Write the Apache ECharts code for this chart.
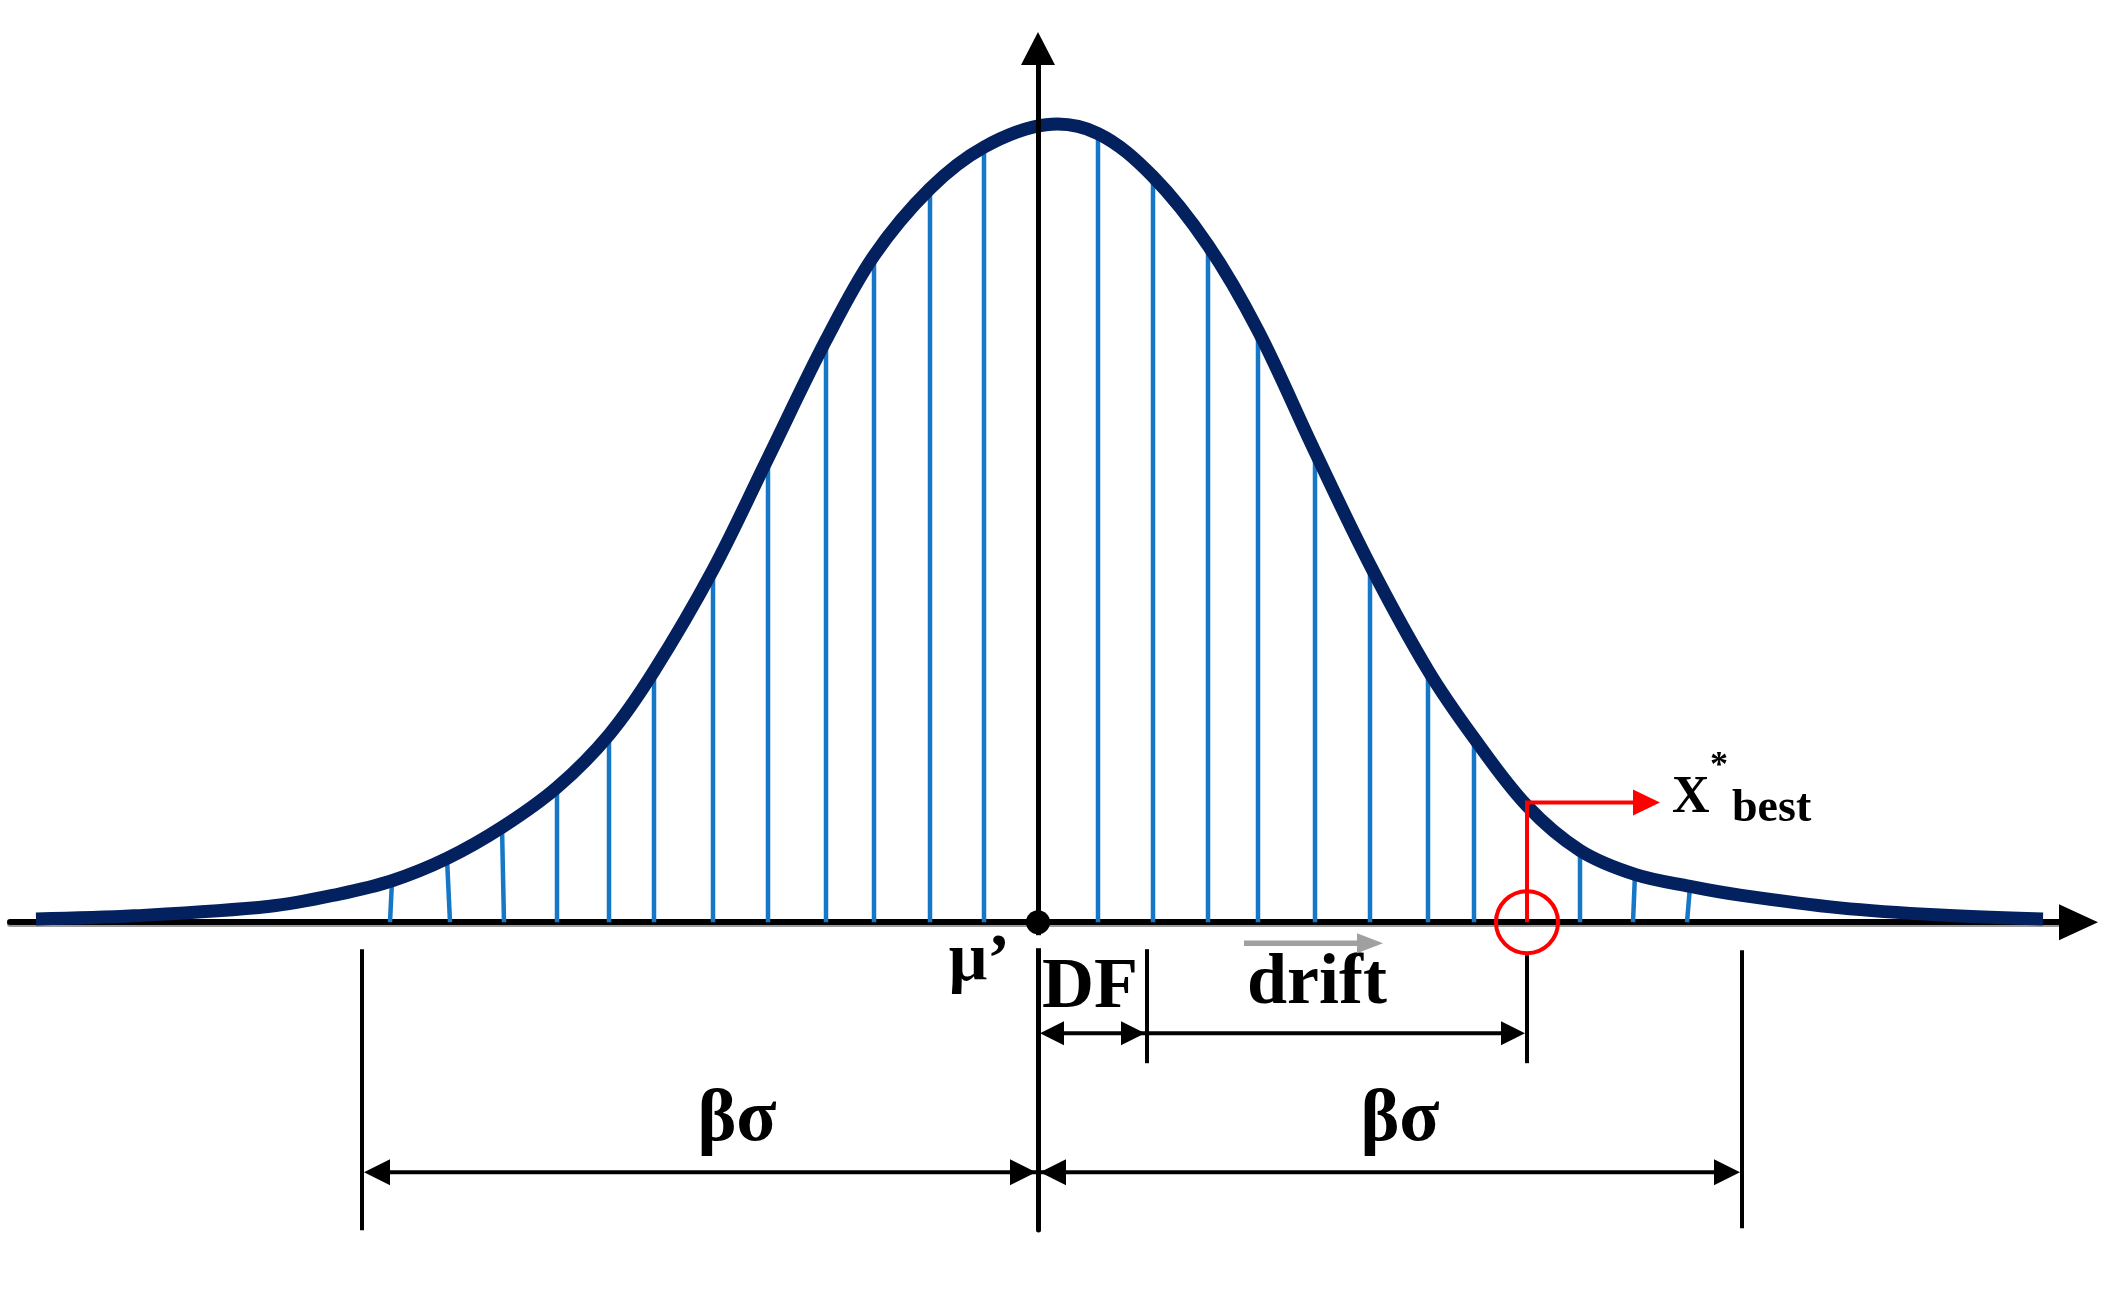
<!DOCTYPE html>
<html>
<head>
    <meta charset="UTF-8">
    <title>drift</title>
    <script src="https://cdn.jsdelivr.net/npm/echarts@6/dist/echarts.min.js"></script>
    <style>
        html, body {margin: 0; padding: 0; background: #fff;}
        #main {width: 2117px; height: 1290px;}
    </style>
</head>
<body>
<div id="main"></div>
<script>
    // curve: x in sigma from mu', y relative to the peak
    var curveX = [-4.008, -3.616, -3.072, -2.800, -2.584, -2.364, -2.144, -1.924, -1.716, -1.536, -1.300,
        -1.080, -0.848, -0.656, -0.432, -0.216, 0.032, 0.240, 0.460, 0.680, 0.880, 1.108, 1.328, 1.560,
        1.744, 1.956, 2.168, 2.388, 2.608, 2.808, 3.208, 3.608, 4.020];
    var curveY = [0.004, 0.008, 0.020, 0.035, 0.052, 0.080, 0.119, 0.169, 0.235, 0.315, 0.442,
        0.582, 0.730, 0.836, 0.920, 0.972, 1.000, 0.989, 0.935, 0.849, 0.742, 0.590, 0.448, 0.316,
        0.231, 0.146, 0.090, 0.060, 0.045, 0.034, 0.018, 0.009, 0.004];

    // blue hatch lines (foot on the axis, top on the curve)
    var hatchX = [-2.592, -2.352, -2.136, -1.924, -1.716, -1.536, -1.300, -1.080, -0.848, -0.656, -0.432, -0.216,
        0.240, 0.460, 0.680, 0.880, 1.108, 1.328, 1.560, 1.744, 2.168, 2.380, 2.596];
    var hatchLean = [0.008, -0.012, -0.008, 0, 0, 0, 0, 0, 0, 0, 0, 0,
        0, 0, 0, 0, 0, 0, 0, 0, 0, 0.008, 0.012];
    var hatchTop = [0.052, 0.080, 0.119, 0.169, 0.235, 0.315, 0.442, 0.582, 0.730, 0.836, 0.920, 0.972,
        0.989, 0.935, 0.849, 0.742, 0.590, 0.448, 0.316, 0.231, 0.090, 0.060, 0.045];

    // marked points on the x axis
    var muPrime = 0;
    var dfEnd = 0.436;
    var xBest = [1.956, 0.150];
    var betaSigma = [-2.704, 2.816];

    var SERIF = '"Liberation Serif", "Times New Roman", serif';
    var RED = '#ff0000';

    function seg(x1, y1, x2, y2, color, w) {
        return {type: 'line', shape: {x1: x1, y1: y1, x2: x2, y2: y2}, style: {stroke: color, lineWidth: w}};
    }
    // dir 1 = pointing right, -1 = pointing left
    function head(tx, ty, dir, len, half, color) {
        return {
            type: 'polygon',
            shape: {points: [[tx, ty], [tx - dir * len, ty - half], [tx - dir * len, ty + half]]},
            style: {fill: color}
        };
    }
    function label(text, x, y, size, bold, align) {
        return {
            type: 'text', x: x, y: y,
            style: {
                text: text, font: (bold ? 'bold ' : '') + size + 'px ' + SERIF,
                fill: '#000', align: align || 'center', verticalAlign: 'middle'
            }
        };
    }

    function renderHatch(params, api) {
        var i = params.dataIndex;
        var p0 = api.coord([hatchX[i], 0]);
        var p1 = api.coord([hatchX[i] + hatchLean[i], hatchTop[i]]);
        return seg(p0[0], p0[1], p1[0], p1[1], '#1677c6', 4.5);
    }

    // the bell curve, one smooth polyline through all read points
    function renderCurve(params, api) {
        var pts = curveX.map(function (x, i) { return api.coord([x, curveY[i]]); });
        return {
            type: 'polyline',
            shape: {points: pts, smooth: 0.35},
            style: {fill: 'none', stroke: '#03215e', lineWidth: 13}
        };
    }

    function renderNotes(params, api) {
        var o = api.coord([muPrime, 0]);
        var x0 = o[0], y0 = o[1];
        var xd = api.coord([dfEnd, 0])[0];
        var b = api.coord(xBest);
        var bl = api.coord([betaSigma[0], 0])[0];
        var br = api.coord([betaSigma[1], 0])[0];
        var row1 = y0 + 111, row2 = y0 + 250;
        var k = [];

        // mu' dot, with the small gap under it
        k.push({type: 'rect', shape: {x: x0 - 6, y: y0 + 13, width: 12, height: 13}, style: {fill: '#fff'}});
        k.push({type: 'circle', shape: {cx: x0, cy: y0, r: 12}, style: {fill: '#000'}});
        k.push(label('μ’', x0 - 28, y0 + 40, 68, true, 'right'));

        // DF / drift
        k.push(seg(xd, y0 + 27, xd, y0 + 141, '#000', 4));
        k.push(seg(b[0], y0 + 33, b[0], y0 + 141, '#000', 4));
        k.push(seg(x0 + 10, row1, b[0] - 10, row1, '#000', 4));
        k.push(head(x0 + 2, row1, -1, 24, 12, '#000'));
        k.push(head(xd - 2, row1, 1, 24, 12, '#000'));
        k.push(head(b[0] - 2, row1, 1, 24, 12, '#000'));
        k.push(label('DF', x0 + 4, y0 + 66, 72, true, 'left'));
        k.push(label('drift', xd + 170, y0 + 62, 72, true));
        k.push(seg(xd + 97, y0 + 21, xd + 212, y0 + 21, '#a0a0a0', 5.5));
        k.push(head(xd + 236, y0 + 21, 1, 26, 10, '#a0a0a0'));

        // beta sigma on both sides
        k.push(seg(bl, y0 + 27, bl, y0 + 308, '#000', 4));
        k.push(seg(br, y0 + 28, br, y0 + 306, '#000', 4));
        k.push(seg(bl + 10, row2, br - 10, row2, '#000', 4));
        k.push(head(bl + 2, row2, -1, 26, 13, '#000'));
        k.push(head(x0 - 2, row2, 1, 26, 13, '#000'));
        k.push(head(x0 + 2, row2, -1, 26, 13, '#000'));
        k.push(head(br - 2, row2, 1, 26, 13, '#000'));
        k.push(label('βσ', (bl + x0) / 2 + 37, y0 + 199, 74, true));
        k.push(label('βσ', (x0 + br) / 2 + 10, y0 + 199, 74, true));

        // x*best marker
        k.push(seg(b[0], y0, b[0], b[1], RED, 4));
        k.push(seg(b[0] - 2, b[1], b[0] + 110, b[1], RED, 4));
        k.push(head(b[0] + 133, b[1], 1, 27, 13, RED));
        k.push({type: 'circle', shape: {cx: b[0], cy: y0, r: 31}, style: {fill: 'none', stroke: RED, lineWidth: 4}});
        k.push(label('X', b[0] + 145, b[1] - 4, 52, true, 'left'));
        k.push(label('*', b[0] + 192, b[1] - 36, 36, true));
        k.push(label('best', b[0] + 205, b[1] + 7, 46, true, 'left'));

        return {type: 'group', children: k};
    }

    var hatchData = hatchX.map(function (x, i) { return [x, hatchTop[i]]; });

    var option = {
        animation: false,
        backgroundColor: '#fff',
        grid: {left: 10, right: 58, top: 65, bottom: 60, containLabel: false},
        xAxis: {
            type: 'value', min: -4.112, max: 4.084, z: 0,
            axisLine: {
                onZero: true,
                symbol: ['none', 'triangle'], symbolSize: [36, 39], symbolOffset: [0, 19.5],
                lineStyle: {color: '#000', width: 6, shadowColor: '#9a9a9a', shadowOffsetY: 2}
            },
            axisTick: {show: false}, axisLabel: {show: false}, splitLine: {show: false}
        },
        yAxis: {
            type: 'value', min: -0.386, max: 1.075, z: 3,
            axisLine: {
                onZero: true,
                symbol: ['none', 'triangle'], symbolSize: [34, 33], symbolOffset: [0, 16.5],
                lineStyle: {color: '#000', width: 5}
            },
            axisTick: {show: false}, axisLabel: {show: false}, splitLine: {show: false}
        },
        series: [
            {
                type: 'custom', z: 1, silent: true, clip: false,
                renderItem: renderHatch, data: hatchData
            },
            {
                type: 'custom', z: 2, silent: true, clip: false,
                renderItem: renderCurve, data: [[0, 0]]
            },
            {
                type: 'custom', z: 4, silent: true, clip: false,
                renderItem: renderNotes, data: [[0, 0]]
            }
        ]
    };

    var chart = echarts.init(document.getElementById('main'));
    chart.setOption(option);
</script>
</body>
</html>
